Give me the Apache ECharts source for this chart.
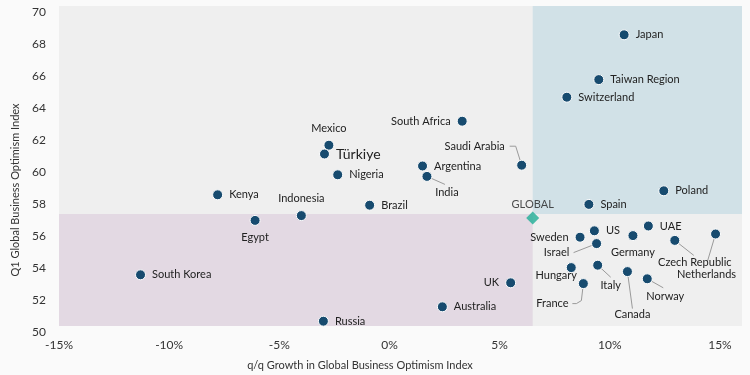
<!DOCTYPE html>
<html>
<head>
<meta charset="utf-8">
<script src="https://cdn.jsdelivr.net/npm/echarts@6/dist/echarts.min.js"></script>
<style>
  html, body { margin: 0; padding: 0; background: #fafafa; }
  #chart { width: 750px; height: 375px; }
</style>
</head>
<body>
<div id="chart"></div>
<script>
// data
var countries = ['Japan', 'Taiwan Region', 'Switzerland', 'Poland', 'Spain', 'South Africa', 'Mexico', 'Türkiye',
  'Nigeria', 'Argentina', 'India', 'Saudi Arabia', 'Kenya', 'Indonesia', 'Brazil', 'Egypt', 'South Korea', 'UK',
  'Australia', 'Russia', 'Sweden', 'US', 'Israel', 'Germany', 'UAE', 'Czech Republic', 'Netherlands', 'Hungary',
  'Italy', 'France', 'Canada', 'Norway'];
var growth = [10.65, 9.5, 8.05, 12.45, 9.05, 3.3, -2.75, -2.95, -2.35, 1.5, 1.7, 6.0, -7.8, -4.0, -0.9, -6.1,
  -11.3, 5.5, 2.4, -3.0, 8.65, 9.3, 9.4, 11.05, 11.75, 12.95, 14.8, 8.25, 9.45, 8.8, 10.8, 11.7];
var optimism = [68.2, 65.4, 64.3, 58.45, 57.6, 62.8, 61.3, 60.75, 59.45, 60.0, 59.35, 60.05, 58.2, 56.9, 57.55,
  56.6, 53.2, 52.7, 51.2, 50.3, 55.55, 55.95, 55.15, 55.65, 56.25, 55.35, 55.75, 53.65, 53.8, 52.65, 53.4, 52.95];
var globalPoint = [6.5, 56.75];
var splitX = 6.5;
var splitY = 57;
var xTicks = [-15, -10, -5, 0, 5, 10, 15];

// where each label sits: a side, or [dx, dy] from the dot
var labelPlace = ['right', 'right', 'right', 'right', 'right', 'left', 'top', 'right', 'right', 'right', [20, 16],
  [-47, -19], 'right', 'top', 'right', 'bottom', 'right', 'left', 'right', 'right', 'left', 'right', [-40, 9],
  'bottom', 'right', [20, 22], [-9, 40], [-15, 8], [13, 20], [-31, 20], [5, 43], [18, 18]];
// leader lines, pixel offsets from the dot
var leaderPaths = {
  'India': [[18, 8]],
  'Saudi Arabia': [[-6, -19], [-12, -19]],
  'Israel': [[-23, 9]],
  'Czech Republic': [[19, 15]],
  'Netherlands': [[-8, 27]],
  'Italy': [[13, 12]],
  'France': [[-2, 17], [-7, 20], [-11, 20]],
  'Canada': [[5, 37]],
  'Norway': [[16, 9]]
};

var points = countries.map(function (name, i) {
  var place = labelPlace[i];
  var item = { name: name, value: [growth[i], optimism[i]] };
  item.label = { position: typeof place === 'string' ? place : 'inside' };
  if (name === 'Türkiye') item.label.fontSize = 14;
  return item;
});
var leaderData = [];
countries.forEach(function (name, i) {
  if (leaderPaths[name]) leaderData.push({ name: name, value: [growth[i], optimism[i]] });
});

var chart = echarts.init(document.getElementById('chart'));
chart.setOption({
  backgroundColor: '#fafafa',
  textStyle: { fontFamily: 'Lato' },
  grid: { left: 59, right: 8, top: 6, bottom: 49, show: true, backgroundColor: '#efefef', borderWidth: 0 },
  xAxis: {
    type: 'value', min: -15, max: 16, interval: 5,
    axisLine: { show: false }, axisTick: { show: false }, splitLine: { show: false },
    axisLabel: {
      color: '#333', fontSize: 12, margin: 13,
      formatter: function (v) { return xTicks.indexOf(v) >= 0 ? v + '%' : ''; }
    }
  },
  yAxis: {
    type: 'value', min: 50, max: 70, interval: 2,
    axisLine: { show: false }, axisTick: { show: false }, splitLine: { show: false },
    axisLabel: { color: '#333', fontSize: 12, margin: 13, verticalAlign: 'top' }
  },
  graphic: [
    { type: 'text', x: 360, y: 365, style: { text: 'q/q Growth in Global Business Optimism Index', fill: '#333', font: '11px Lato', align: 'center', verticalAlign: 'middle' } },
    { type: 'text', x: 15, y: 190, rotation: Math.PI / 2, style: { text: 'Q1 Global Business Optimism Index', fill: '#333', font: '11px Lato', align: 'center', verticalAlign: 'middle' } }
  ],
  series: [
    {
      type: 'scatter', z: 1, data: [], silent: true,
      markArea: {
        silent: true,
        data: [
          [{ xAxis: splitX, yAxis: splitY, itemStyle: { color: '#d1e1e7' } }, { xAxis: 16, yAxis: 70 }],
          [{ xAxis: -15, yAxis: 50, itemStyle: { color: '#e3d9e3' } }, { xAxis: splitX, yAxis: splitY }]
        ]
      }
    },
    {
      type: 'custom', z: 2, silent: true,
      coordinateSystem: 'cartesian2d',
      encode: { x: 0, y: 1 },
      renderItem: function (params, api) {
        var p = api.coord([api.value(0), api.value(1)]);
        var name = leaderData[params.dataIndex].name;
        var pts = [[p[0], p[1]]].concat(leaderPaths[name].map(function (o) {
          return [p[0] + o[0], p[1] + o[1]];
        }));
        return { type: 'polyline', shape: { points: pts }, style: { stroke: '#9a9a9a', lineWidth: 1, fill: null } };
      },
      data: leaderData
    },
    {
      type: 'scatter', z: 3,
      symbolSize: 10,
      itemStyle: { color: '#174b6f', borderColor: '#ffffff', borderWidth: 1, opacity: 1 },
      label: {
        show: true, distance: 6, color: '#222', fontSize: 11,
        formatter: '{b}'
      },
      labelLayout: function (params) {
        var place = labelPlace[params.dataIndex];
        if (typeof place === 'string') return {};
        return { dx: place[0], dy: place[1] };
      },
      data: points
    },
    {
      type: 'scatter', z: 3,
      symbol: 'diamond', symbolSize: 13,
      itemStyle: { color: '#1fae96' },
      label: { show: true, position: 'top', distance: 2, color: '#222', fontSize: 11, formatter: 'GLOBAL' },
      data: [globalPoint]
    }
  ]
});
</script>
</body>
</html>
